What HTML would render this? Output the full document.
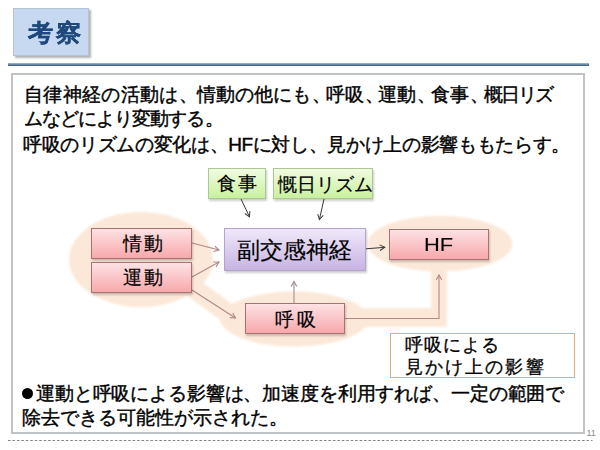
<!DOCTYPE html>
<html lang="ja">
<head>
<meta charset="utf-8">
<style>
html,body{margin:0;padding:0;background:#fff;}
body{width:600px;height:450px;position:relative;overflow:hidden;font-family:"Liberation Sans",sans-serif;color:#000;}
.a{position:absolute;white-space:nowrap;}
#title{left:13px;top:8px;width:74px;height:46px;background:#c6d9f1;border:1px solid #b4c2d2;box-shadow:1.5px 1.5px 2px rgba(0,0,0,0.3);}
#title span{-webkit-text-stroke:0.25px #1f497d;position:absolute;left:13.5px;top:8.5px;font-size:24px;letter-spacing:2.4px;transform:scaleX(1.05);transform-origin:0 0;font-weight:bold;color:#1f497d;line-height:30px;}
#rule{left:8px;top:63px;width:581px;height:3.3px;background:linear-gradient(#9ab5c9 0%,#86a3bb 40%,#4f6f8f 60%,#3f6080 100%);}
#content{left:11px;top:72.5px;width:570.3px;height:357.5px;border:2px solid #c0c4c7;}
#dash{left:0;top:0;}
#pn{left:586.5px;top:428px;font-size:9px;color:#8c8c8c;-webkit-text-stroke:0;}
.t{font-size:19px;line-height:24px;}
.d{font-size:19px;line-height:24px;-webkit-text-stroke:0.2px #000;}
.s{position:absolute;top:0;}
body{-webkit-text-stroke:0.4px currentColor;}
.box{position:absolute;box-sizing:border-box;box-shadow:1px 1.5px 2px rgba(0,0,0,0.2);text-align:center;}
.pink{background:linear-gradient(#fde2e4,#f8a8ab);border:1px solid #a87272;}
.green{background:linear-gradient(#f0fce2,#caf09e);border:1px solid #adc794;}
.purple{background:linear-gradient(#f0e8fa,#c7b4e2);border:1px solid #b4a4cc;}
</style>
</head>
<body>
<div id="title" class="a"><span>考察</span></div>
<div id="rule" class="a"></div>
<div id="content" class="a"></div>
<svg id="dash" class="a" width="600" height="450"><line x1="8" y1="440.5" x2="592.5" y2="440.5" stroke="#858585" stroke-width="1.1" stroke-dasharray="2.6 1.85"/></svg>
<div id="pn" class="a">11</div>

<div class="a t" id="L1" style="left:0;top:83px;"><span class="s" style="left:24px;letter-spacing:0.35px">自律神経の活動は、</span><span class="s" style="left:197px;letter-spacing:0.1px">情動の他にも、</span><span class="s" style="left:326px;letter-spacing:0.4px">呼吸、</span><span class="s" style="left:377.6px;letter-spacing:0.5px">運動、</span><span class="s" style="left:430.8px;letter-spacing:0.6px">食事、</span><span class="s" style="left:484px;letter-spacing:-2px">概日リズ</span></div>
<div class="a t" id="L2" style="left:23.5px;top:107px;letter-spacing:-0.9px;">ムなどにより変動する。</div>
<div class="a t" id="L3" style="left:23px;top:133px;letter-spacing:-0.35px;">呼吸のリズムの変化は、HFに対し、見かけ上の影響ももたらす。</div>
<div class="a" style="left:22px;top:388px;width:11px;height:11px;border-radius:50%;background:#000;"></div>
<div class="a t" id="L4" style="left:36px;top:382px;letter-spacing:-0.14px;">運動と呼吸による影響は、加速度を利用すれば、一定の範囲で</div>
<div class="a t" id="L5" style="left:22px;top:406px;">除去できる可能性が示された。</div>

<svg class="a" style="left:0;top:0" width="600" height="450">
<defs>
<filter id="soft" x="-20%" y="-20%" width="140%" height="140%"><feGaussianBlur stdDeviation="0.8"/></filter>
<marker id="ah" markerWidth="8" markerHeight="8" refX="6" refY="4" orient="auto" markerUnits="userSpaceOnUse">
<path d="M1,1.2 L6,4 L1,6.8" fill="none" stroke="#b08888" stroke-width="1.1"/>
</marker>
<marker id="ahd" markerWidth="8" markerHeight="8" refX="6" refY="4" orient="auto" markerUnits="userSpaceOnUse">
<path d="M1,1.2 L6,4 L1,6.8" fill="none" stroke="#3a3a3a" stroke-width="1"/>
</marker>
<marker id="ahu" markerWidth="8" markerHeight="8" refX="6" refY="4" orient="auto" markerUnits="userSpaceOnUse">
<path d="M1,1.2 L6,4 L1,6.8" fill="none" stroke="#a08c98" stroke-width="1.1"/>
</marker>
</defs>
<g fill="#fce8d9" filter="url(#soft)">
<ellipse cx="141" cy="259.5" rx="72" ry="47.5"/>
<line x1="185" y1="282" x2="236" y2="319" stroke="#fce8d9" stroke-width="20"/>
<ellipse cx="294.3" cy="319" rx="74" ry="27.7"/>
<rect x="330" y="308" width="117" height="19"/>
<rect x="431" y="262" width="16" height="65"/>
<ellipse cx="440" cy="243.7" rx="72.3" ry="27.9"/>
</g>
<g stroke="#3a3a3a" stroke-width="1" fill="none" marker-end="url(#ahd)">
<line x1="241" y1="199" x2="249.5" y2="216.8"/>
<line x1="324" y1="199" x2="319.4" y2="219.6"/>
<line x1="366" y1="248.8" x2="384.8" y2="247.3"/>
</g>
<g stroke="#b08888" stroke-width="1.1" fill="none" marker-end="url(#ah)">
<line x1="192" y1="243" x2="219" y2="250"/>
<line x1="192" y1="277" x2="219" y2="262"/>
<line x1="192" y1="290" x2="235.5" y2="318"/>
<polyline points="345,318.5 439,318.5 439,275"/>
</g>
<line x1="294" y1="303" x2="294" y2="281.5" stroke="#a08c98" stroke-width="1.1" marker-end="url(#ahu)"/>
</svg>

<div class="box green" style="left:208px;top:168px;width:58px;height:31px;"></div>
<div class="box green" style="left:273px;top:168px;width:100px;height:31px;"></div>
<div class="box purple" style="left:224px;top:228px;width:142px;height:43px;"></div>
<div class="box pink" style="left:91px;top:228px;width:101px;height:31px;"></div>
<div class="box pink" style="left:91px;top:262px;width:101px;height:31px;"></div>
<div class="box pink" style="left:245px;top:303px;width:100px;height:31px;"></div>
<div class="box pink" style="left:389px;top:229px;width:100px;height:31px;"></div>

<div class="a d" style="left:217px;top:172px;letter-spacing:2px;">食事</div>
<div class="a d" style="left:277.5px;top:173px;">慨日リズム</div>
<div class="a" id="FK" style="left:237.3px;top:237px;font-size:22.5px;line-height:28px;letter-spacing:0px;-webkit-text-stroke:0.2px #000;">副交感神経</div>
<div class="a d" style="left:122.5px;top:232px;letter-spacing:2px;">情動</div>
<div class="a d" style="left:122.5px;top:266px;letter-spacing:2px;">運動</div>
<div class="a d" style="left:275px;top:308px;letter-spacing:2.5px;">呼吸</div>
<div class="a" id="HF" style="left:424px;top:233px;font-size:17.5px;line-height:24px;transform:scaleX(1.25);transform-origin:0 0;-webkit-text-stroke:0.1px #000;">HF</div>
<div class="a" style="left:390px;top:332.5px;width:183px;height:43px;border:1.8px solid #e6ac74;"></div>
<div class="a" id="OB" style="-webkit-text-stroke:0.3px #000;left:404.5px;top:334px;font-size:18px;line-height:22px;letter-spacing:1.2px;">呼吸による<br><span style="letter-spacing:2.2px">見かけ上の影響</span></div>
</body>
</html>
